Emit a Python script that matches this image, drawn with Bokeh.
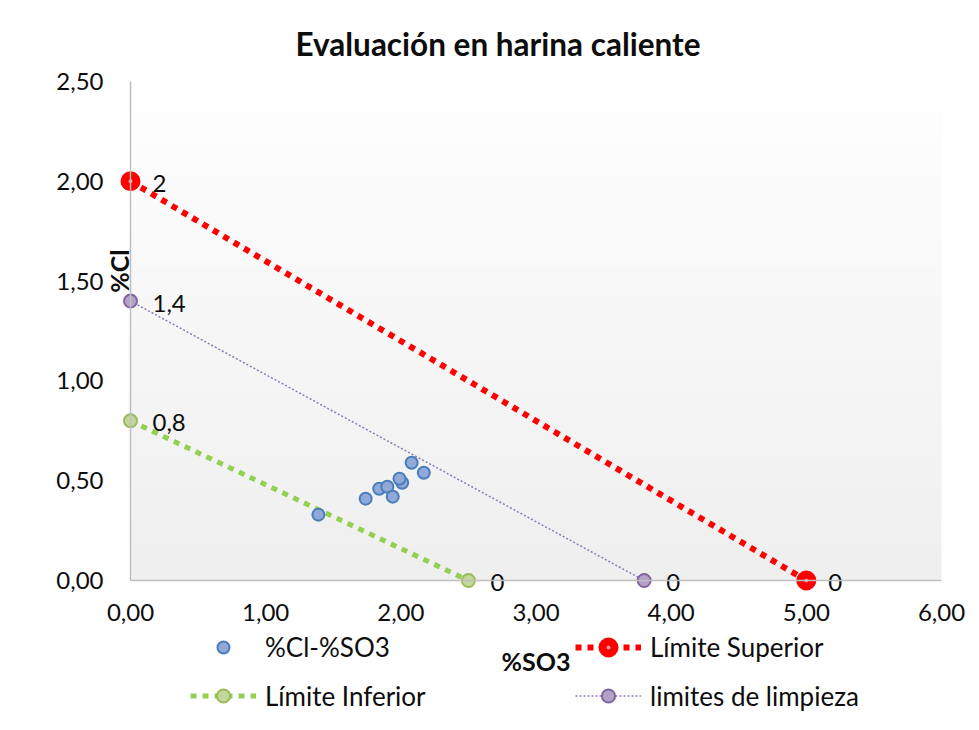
import math
import numpy as np
from bokeh.plotting import figure
from bokeh.models import (Range1d, FixedTicker, CustomJSTickFormatter, Legend,
                          LegendItem, Label, ColumnDataSource)
from bokeh.core.properties import value
from bokeh.embed import file_html
from bokeh.resources import INLINE

# ---------------- data ----------------
so3 = [1.39, 1.74, 1.84, 1.90, 1.94, 2.01, 1.99, 2.08, 2.17]
cl = [0.33, 0.41, 0.46, 0.47, 0.42, 0.49, 0.51, 0.59, 0.54]

sup_x = [0.0, 5.0]
sup_y = [2.0, 0.0]
inf_x = [0.0, 2.5]
inf_y = [0.8, 0.0]
limp_x = [0.0, 3.8]
limp_y = [1.4, 0.0]

x_ticks = [0, 1, 2, 3, 4, 5, 6]
y_ticks = [0.0, 0.5, 1.0, 1.5, 2.0, 2.5]
X_MAX = 6.0
Y_MAX = 2.5

title_text = "Evaluación en harina caliente"
x_title = "%SO3"
y_title = "%Cl"
names = ["%Cl-%SO3", "Límite Superior", "Límite Inferior", "limites de limpieza"]

# ---------------- layout (pixels) ----------------
W, H = 979, 730
TOP = 70                      # frame top (title panel above)
PX_X0, PX_X1 = 130, 941       # pixel of x=0 and x=X_MAX
PX_Y0, PX_Y1 = 580, 81        # pixel of y=0 and y=Y_MAX
sx = (PX_X1 - PX_X0) / X_MAX
sy = (PX_Y0 - PX_Y1) / Y_MAX
x_start = -PX_X0 / sx
x_end = X_MAX + (W - PX_X1) / sx
y_end = (PX_Y0 - TOP) / sy
y_start = -(H - PX_Y0) / sy

FONT = "Lato"
TXT = "#0D0D0D"

p = figure(width=W, height=H,
           x_range=Range1d(x_start, x_end), y_range=Range1d(y_start, y_end),
           output_backend="svg", toolbar_location=None,
           min_border_left=0, min_border_right=0,
           min_border_top=TOP, min_border_bottom=0,
           title=title_text)
p.styles = {"outline": "1px solid #D9D9D9"}

p.title.text_font = FONT
p.title.text_font_size = "31.5px"
p.title.text_font_style = "bold"
p.title.text_color = TXT
p.title.align = "left"
p.title.offset = 295
p.title.standoff = 15

p.grid.visible = False
p.outline_line_color = None
p.background_fill_color = "white"
p.border_fill_color = "white"

# subtle vertical gradient of the plot area
n = 256
grad = np.zeros((n, 1), dtype=np.uint32)
view = grad.view(dtype=np.uint8).reshape((n, 1, 4))
for i in range(n):
    v = int(239 + 16 * i / (n - 1))
    view[i, 0, :] = [v, v, v, 255]
p.image_rgba(image=[grad], x=0, y=0, dw=X_MAX, dh=Y_MAX)

fmt = CustomJSTickFormatter(code="return tick.toFixed(2).replace('.', ',');")
for ax in (p.xaxis[0], p.yaxis[0]):
    ax.formatter = fmt
    ax.fixed_location = 0
    ax.axis_line_color = "#BFBFBF"
    ax.axis_line_width = 1.5
    ax.major_tick_line_color = None
    ax.minor_tick_line_color = None
    ax.major_tick_out = 0
    ax.major_tick_in = 0
    ax.major_label_text_font = FONT
    ax.major_label_text_font_size = "24px"
    ax.major_label_text_color = TXT
p.xaxis.ticker = FixedTicker(ticks=x_ticks)
p.yaxis.ticker = FixedTicker(ticks=y_ticks)
p.xaxis.bounds = (0, X_MAX)
p.yaxis.bounds = (0, Y_MAX)
p.yaxis.major_label_standoff = 27
p.xaxis.major_label_standoff = 23

p.xaxis.axis_label = x_title
p.xaxis.axis_label_text_font = FONT
p.xaxis.axis_label_text_font_size = "25px"
p.xaxis.axis_label_text_font_style = "bold"
p.xaxis.axis_label_text_color = TXT
p.xaxis.axis_label_standoff = 22

p.add_layout(Label(x=-0.085, y=1.55, text=y_title, angle=math.pi / 2,
                   text_align="center", text_baseline="middle",
                   text_font=FONT, text_font_size="25px",
                   text_font_style="bold", text_color=TXT))

# ---------------- series ----------------
r_sup_line = p.line(sup_x, sup_y, line_color="#FF0000", line_width=6, line_dash="6 6")
r_sup_pts = p.scatter(sup_x, sup_y, marker="circle", size=12, fill_color="#E9A0A0",
                      line_color="#FF0000", line_width=8)

r_limp_line = p.line(limp_x, limp_y, line_color="#8E7AB5", line_width=1.5, line_dash="2 2")
r_limp_pts = p.scatter(limp_x, limp_y, marker="circle", size=13, fill_color="#B3A2C7",
                       line_color="#8064A2", line_width=2)

r_inf_line = p.line(inf_x, inf_y, line_color="#92D050", line_width=5, line_dash="6 6")
r_inf_pts = p.scatter(inf_x, inf_y, marker="circle", size=13, fill_color="#C3D69B",
                      line_color="#9BBB59", line_width=2)

r_pts = p.scatter(so3, cl, marker="circle", size=12, fill_color="#91A9D8",
                  line_color="#4A7EBB", line_width=2)

# data labels at limit endpoints
lab_x = sup_x + limp_x + inf_x
lab_y = sup_y + limp_y + inf_y
lab_t = [("%g" % v).replace(".", ",") for v in lab_y]
p.text(x="x", y="y", text="t", source=ColumnDataSource(dict(x=lab_x, y=lab_y, t=lab_t)),
       x_offset=22, y_offset=2, text_align="left", text_baseline="middle",
       text_font=value(FONT), text_font_size="24px", text_color=TXT)

# ---------------- legends ----------------
def add_legend(label, renderers, x, y, gh):
    lg = Legend(items=[LegendItem(label=label, renderers=renderers)],
                location=(x, y), orientation="vertical",
                glyph_width=66, glyph_height=gh, label_standoff=9,
                padding=0, margin=0, spacing=0,
                border_line_color=None, background_fill_alpha=0,
                label_text_font=FONT, label_text_font_size="26px",
                label_text_color=TXT, label_height=20)
    p.add_layout(lg, "center")

add_legend(names[0], [r_pts], 190, 67, 30)
add_legend(names[1], [r_sup_line, r_sup_pts], 575, 67, 30)
add_legend(names[2], [r_inf_line, r_inf_pts], 190, 18, 33)
add_legend(names[3], [r_limp_line, r_limp_pts], 575, 18, 33)

open("out.html", "w").write(file_html(p, INLINE))
